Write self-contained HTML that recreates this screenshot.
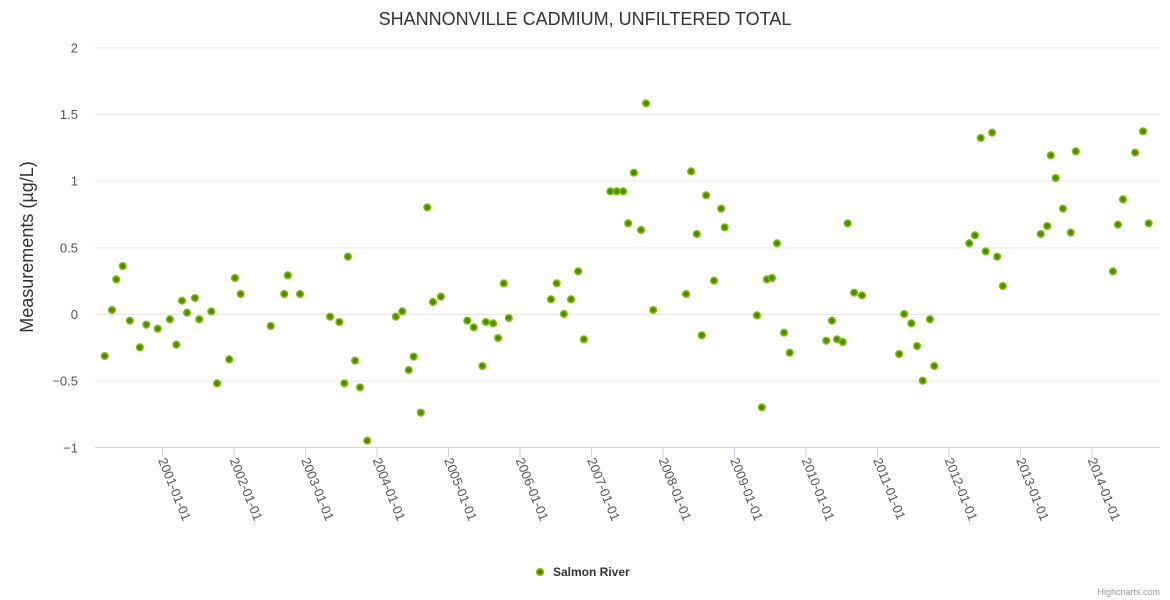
<!DOCTYPE html>
<html><head><meta charset="utf-8"><style>
html,body{margin:0;padding:0;background:#fff;}
svg{display:block;font-family:"Liberation Sans",sans-serif;}
</style></head><body>
<svg id="chart" width="1170" height="600">
<text x="585" y="25" text-anchor="middle" font-size="18" fill="#333">SHANNONVILLE CADMIUM, UNFILTERED TOTAL</text>
<text transform="translate(33,247) rotate(-90)" text-anchor="middle" font-size="18" fill="#333">Measurements (µg/L)</text>
<g id="grid"></g><g id="xaxis"></g><g id="pts"></g>
<g>
<circle cx="540" cy="572" r="3.3" fill="#4d8c00" stroke="#7dbd00" stroke-width="1.5"/>
<text x="553" y="576" font-size="12" font-weight="bold" fill="#333">Salmon River</text>
</g>
<text x="1160" y="595" text-anchor="end" font-size="9" fill="#999">Highcharts.com</text>
</svg>
<script>
const yTicks=[2,1.5,1,0.5,0,-0.5,-1];
const yLabels=["2","1.5","1","0.5","0","−0.5","−1"];
const xTicks=[2001,2002,2003,2004,2005,2006,2007,2008,2009,2010,2011,2012,2013,2014];
const dates=[2000.20,2000.30,2000.36,2000.45,2000.55,2000.69,2000.78,2000.94,2001.11,2001.20,2001.28,2001.35,2001.46,2001.52,2001.69,2001.77,2001.94,2002.02,2002.10,2002.52,2002.71,2002.76,2002.93,2003.35,2003.48,2003.55,2003.60,2003.70,2003.77,2003.87,2004.27,2004.36,2004.45,2004.52,2004.62,2004.71,2004.79,2004.90,2005.27,2005.36,2005.48,2005.53,2005.63,2005.70,2005.78,2005.85,2006.44,2006.52,2006.62,2006.72,2006.82,2006.90,2007.27,2007.36,2007.45,2007.52,2007.60,2007.70,2007.77,2007.87,2008.33,2008.40,2008.48,2008.55,2008.61,2008.72,2008.82,2008.87,2009.32,2009.39,2009.46,2009.53,2009.60,2009.70,2009.78,2010.29,2010.37,2010.44,2010.52,2010.59,2010.68,2010.79,2011.31,2011.38,2011.48,2011.56,2011.64,2011.74,2011.80,2012.29,2012.37,2012.45,2012.52,2012.61,2012.68,2012.76,2013.29,2013.38,2013.43,2013.50,2013.60,2013.71,2013.78,2014.30,2014.37,2014.44,2014.61,2014.72,2014.80];
const values=[-0.315,0.03,0.26,0.36,-0.05,-0.25,-0.08,-0.11,-0.04,-0.23,0.10,0.01,0.12,-0.04,0.02,-0.52,-0.34,0.27,0.15,-0.09,0.15,0.29,0.15,-0.02,-0.06,-0.52,0.43,-0.35,-0.55,-0.95,-0.02,0.02,-0.42,-0.32,-0.74,0.80,0.09,0.13,-0.05,-0.10,-0.39,-0.06,-0.07,-0.18,0.23,-0.03,0.11,0.23,0.00,0.11,0.32,-0.19,0.92,0.92,0.92,0.68,1.06,0.63,1.58,0.03,0.15,1.07,0.60,-0.16,0.89,0.25,0.79,0.65,-0.01,-0.70,0.26,0.27,0.53,-0.14,-0.29,-0.20,-0.05,-0.19,-0.21,0.68,0.16,0.14,-0.30,0.00,-0.07,-0.24,-0.50,-0.04,-0.39,0.53,0.59,1.32,0.47,1.36,0.43,0.21,0.60,0.66,1.19,1.02,0.79,0.61,1.22,0.32,0.67,0.86,1.21,1.37,0.68];
const NS="http://www.w3.org/2000/svg";
const X0=95,X1=1160;
function xs(t){return 162+(t-2001)*71.5;}
function ys(v){return 314-v*133.33;}
function mk(tag,a,parent){const e=document.createElementNS(NS,tag);for(const k in a)e.setAttribute(k,a[k]);parent.appendChild(e);return e;}
const grid=document.getElementById('grid');
yTicks.forEach((v,i)=>{
  if(v!==-1){const l=mk('line',{x1:X0,x2:X1,y1:ys(v)+0.5,y2:ys(v)+0.5,stroke:'#e6e6e6'},grid);
  
  }
  const t=mk('text',{x:78,y:ys(v)+5,'text-anchor':'end','font-size':13,fill:'#555'},grid);
  t.textContent=yLabels[i];
  
  
});
const xa=document.getElementById('xaxis');
const al=mk('line',{x1:X0,x2:X1,y1:447.5,y2:447.5,stroke:'#ccd6eb'},xa);


xTicks.forEach(y=>{
  const x=xs(y);
  const tk=mk('line',{x1:x+0.5,x2:x+0.5,y1:447,y2:457,stroke:'#ccd6eb'},xa);
  
  
  const t=mk('text',{transform:`translate(${x-4},${460}) rotate(68)`,'font-size':13,fill:'#555'},xa);
  t.textContent=y+'-01-01';
  
  
});
const pts=document.getElementById('pts');
dates.forEach((d,i)=>{
  const c=mk('circle',{cx:xs(d),cy:ys(values[i]),r:3.3,fill:'#4d8c00',stroke:'#7dbd00','stroke-width':1.5},pts);
  
  
});
</script>
</body></html>
